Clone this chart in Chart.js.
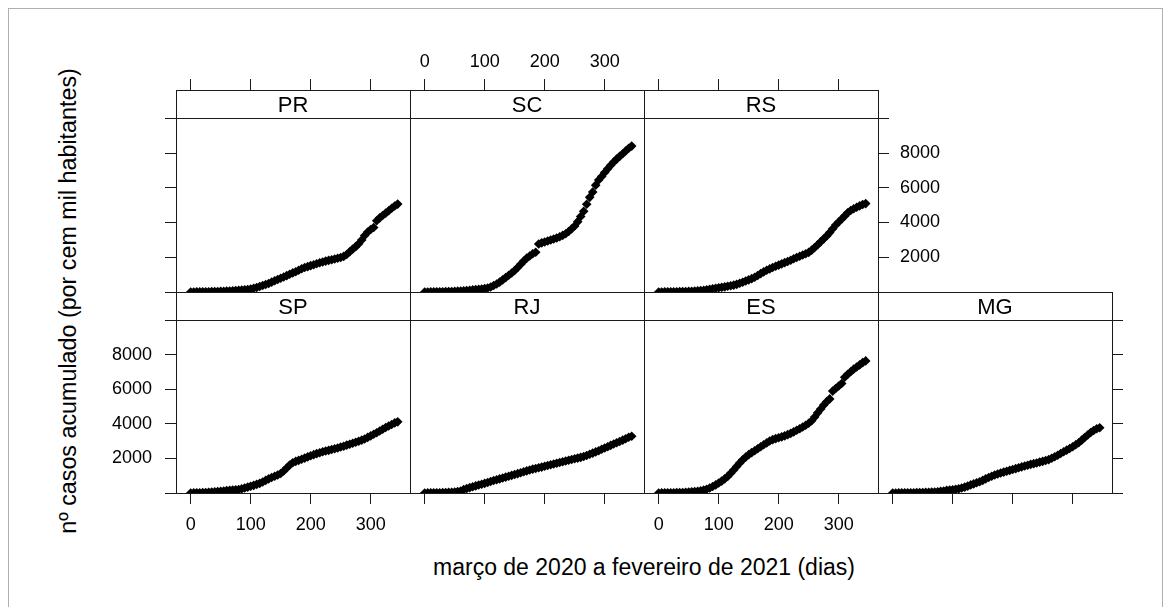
<!DOCTYPE html>
<html><head><meta charset="utf-8">
<script src="https://cdn.jsdelivr.net/npm/chart.js@4.4.1/dist/chart.umd.min.js"></script>
<style>
html,body{margin:0;padding:0;background:#fff;width:1171px;height:607px;overflow:hidden;}
#moldura{position:absolute;left:8px;top:8px;width:1153px;height:620px;border:1px solid #b0b0b0;}
canvas{position:absolute;left:0;top:0;}
.titulo{position:absolute;font-family:"Liberation Sans",Arial,sans-serif;font-size:23px;line-height:23px;color:#000;white-space:nowrap;}
#xtitulo{left:644px;top:556px;transform:translateX(-50%);}
#ytitulo{left:68px;top:301px;font-size:23.3px;transform:translate(-50%,-50%) rotate(-90deg);}
</style></head><body>
<div id="moldura"></div>
<div id="xtitulo" class="titulo">março de 2020 a fevereiro de 2021 (dias)</div>
<div id="ytitulo" class="titulo">nº casos acumulado (por cem mil habitantes)</div>
<script>
// ---- dados ----
const dias = [0,5,10,15,20,25,30,35,40,45,50,55,60,65,70,75,80,85,90,95,100,105,110,115,120,125,130,135,140,145,150,155,160,165,170,175,180,185,190,195,200,205,210,215,220,225,230,235,240,245,250,255,260,265,270,275,280,285,290,295,300,305,310,315,320,325,330,335,340,345];
const PR = [0,0,5,5,10,10,15,20,25,30,40,45,55,60,70,85,95,110,125,145,170,210,260,320,370,430,490,570,650,720,790,860,940,1020,1100,1170,1250,1340,1410,1460,1520,1570,1630,1680,1730,1780,1820,1860,1900,1940,1990,2050,2160,2320,2470,2610,2780,2990,3250,3450,3600,3710,4100,4270,4400,4540,4680,4820,4950,5060];
const SC = [0,0,5,5,10,10,15,20,25,30,40,50,60,75,90,105,120,135,150,170,195,230,290,370,460,570,700,830,960,1090,1240,1410,1600,1780,1950,2070,2200,2290,2760,2830,2880,2940,2990,3050,3110,3180,3260,3350,3480,3640,3800,4050,4350,4650,5050,5450,5750,6150,6450,6650,6880,7090,7300,7480,7650,7810,7960,8120,8280,8400];
const RS = [0,0,5,5,10,10,15,20,25,30,35,45,55,65,80,100,125,155,185,215,245,270,295,330,360,395,440,500,560,630,700,770,850,950,1060,1160,1250,1330,1410,1480,1550,1620,1690,1760,1830,1910,1990,2060,2130,2200,2280,2410,2560,2720,2890,3060,3230,3420,3640,3860,4030,4200,4380,4560,4690,4790,4880,4960,5040,5090];
const SP = [0,5,10,15,20,30,40,50,65,80,100,120,140,160,175,190,205,240,290,340,390,440,500,560,640,730,820,900,970,1040,1130,1270,1450,1620,1750,1830,1890,1950,2020,2090,2160,2220,2280,2330,2390,2430,2470,2520,2560,2610,2660,2710,2770,2820,2880,2940,3000,3060,3130,3220,3310,3400,3490,3590,3690,3790,3880,3970,4060,4120];
const RJ = [0,5,5,10,10,15,20,25,35,45,60,80,120,200,260,310,360,410,460,510,560,610,670,720,770,820,870,920,970,1020,1070,1120,1170,1230,1280,1330,1380,1420,1460,1500,1550,1590,1640,1680,1720,1770,1810,1850,1900,1940,1980,2020,2060,2110,2170,2240,2310,2380,2450,2530,2610,2680,2760,2840,2910,2980,3060,3140,3230,3290];
const ES = [0,5,5,10,10,15,20,25,30,40,50,65,80,100,130,170,220,290,380,470,580,690,820,960,1140,1330,1540,1740,1920,2080,2220,2340,2450,2560,2680,2790,2900,3010,3090,3150,3200,3250,3310,3380,3450,3540,3630,3720,3820,3920,4040,4180,4400,4640,4860,5090,5290,5450,5900,6050,6200,6340,6700,6880,7020,7170,7300,7420,7550,7650];
const MG = [0,0,5,5,10,10,15,15,20,25,30,35,45,50,60,75,95,120,150,170,190,210,240,290,340,400,470,530,590,650,730,820,900,970,1040,1100,1160,1210,1260,1310,1360,1410,1460,1510,1560,1610,1660,1700,1740,1790,1830,1880,1930,2010,2100,2190,2290,2390,2480,2580,2680,2790,2910,3060,3210,3360,3500,3620,3720,3780];
const estados = ['PR','SC','RS','SP','RJ','ES','MG'];
const ticksX = [0,100,200,300];
const rotulosX = ['0','100','200','300'];
const ticksY = [0,2000,4000,6000,8000,10000];
const rotulosY = ['','2000','4000','6000','8000',''];

// ---- layout ----
const W = 1171, H = 607;
const colX = [176, 410, 644, 878];
const colW = 234;
const rowTop = [90, 292];
const rowBot = [292, 493];
const stripH = 28.3;
const X_MIN = -24.5, X_MAX = 365.5;
const SH = 50;
const TICK = 11;
const LINE = '#1a1a1a';
const FAM = '"Liberation Sans", Arial, sans-serif';

const series = {PR, SC, RS, SP, RJ, ES, MG};
// esq/dir/cima/baixo: '' none, 't' ticks, 'tl' ticks+labels
const paineis = [
  {col:0,row:0,esq:'t', dir:'',  cima:'t', baixo:''},
  {col:1,row:0,esq:'',  dir:'',  cima:'tl',baixo:''},
  {col:2,row:0,esq:'',  dir:'tl',cima:'t', baixo:''},
  {col:0,row:1,esq:'tl',dir:'',  cima:'',  baixo:'tl'},
  {col:1,row:1,esq:'',  dir:'',  cima:'',  baixo:'t'},
  {col:2,row:1,esq:'',  dir:'',  cima:'',  baixo:'tl'},
  {col:3,row:1,esq:'',  dir:'t', cima:'',  baixo:'t'}
];

function yMax(r){ const h = rowBot[r]-rowTop[r]; return 10000*h/(h-stripH); }
function largura(modo){ return modo === 'tl' ? 80 : 40; }

function eixo(pos, modo, isX, r){
  const show = modo !== '';
  const lbl = modo === 'tl';
  let pad = 12;
  if (pos === 'left') pad = 13;
  if (pos === 'right') pad = 11;
  if (pos === 'bottom') pad = 10;
  if (pos === 'top') pad = 6;
  const sz = isX ? SH : largura(modo);
  return {
    type:'linear', position:pos, axis: isX ? 'x' : 'y', display:true,
    min: isX ? X_MIN : 0, max: isX ? X_MAX : yMax(r),
    border:{display:true, color:LINE, width:1},
    grid:{display:show, drawOnChartArea:false, drawTicks:true, tickLength:TICK, tickColor:LINE, color:LINE, lineWidth:1},
    ticks:{display:lbl, autoSkip:false, maxRotation:0, minRotation:0, padding:pad, color:'#000',
      font:{family:FAM, size:18},
      callback:(v,i)=> isX ? rotulosX[i] : rotulosY[i]},
    afterBuildTicks:s=>{ s.ticks = (isX ? ticksX : ticksY).map(v=>({value:v})); },
    afterFit:s=>{ if (isX) s.height = sz; else s.width = sz; }
  };
}

const tira = {
  id:'tira',
  afterDatasetsDraw(chart, args, opts){
    const {ctx, chartArea:a} = chart;
    const yl = chart.scales.y.getPixelForValue(10000);
    const yy = Math.round(yl - 0.5) + 0.5;
    ctx.save();
    ctx.strokeStyle = LINE; ctx.lineWidth = 1;
    ctx.beginPath(); ctx.moveTo(a.left, yy); ctx.lineTo(a.right, yy); ctx.stroke();
    ctx.fillStyle = '#000';
    ctx.font = '22px ' + FAM;
    ctx.textAlign = 'center'; ctx.textBaseline = 'middle';
    ctx.fillText(opts.nome, (a.left+a.right)/2, (a.top+yl)/2 + 1.5);
    ctx.restore();
  }
};

paineis.forEach((p, k)=>{
  const nome = estados[k];
  const vals = series[nome];
  const cv = document.createElement('canvas');
  cv.width = W; cv.height = H;
  cv.style.width = W+'px'; cv.style.height = H+'px';
  document.body.appendChild(cv);
  const left = colX[p.col], right = colX[p.col] + colW;
  new Chart(cv.getContext('2d'), {
    type:'scatter',
    data:{datasets:[{
      data: dias.map((d,i)=>({x:d, y:vals[i]})),
      xAxisID:'x', yAxisID:'y',
      pointStyle:'rectRot', pointRadius:4.8, pointBorderWidth:0,
      backgroundColor:'#000', borderColor:'#000', showLine:false
    }]},
    options:{
      responsive:false, animation:false, events:[], devicePixelRatio:1,
      layout:{autoPadding:false, padding:{
        left:left-largura(p.esq), right:W-right-largura(p.dir),
        top:rowTop[p.row]-SH, bottom:H-rowBot[p.row]-SH}},
      scales:{
        x: eixo('bottom', p.baixo, true, p.row),
        x2: eixo('top', p.cima, true, p.row),
        y: eixo('left', p.esq, false, p.row),
        y2: eixo('right', p.dir, false, p.row)
      },
      plugins:{legend:{display:false}, tooltip:{enabled:false}, tira:{nome}}
    },
    plugins:[tira]
  });
});
</script>
</body></html>
